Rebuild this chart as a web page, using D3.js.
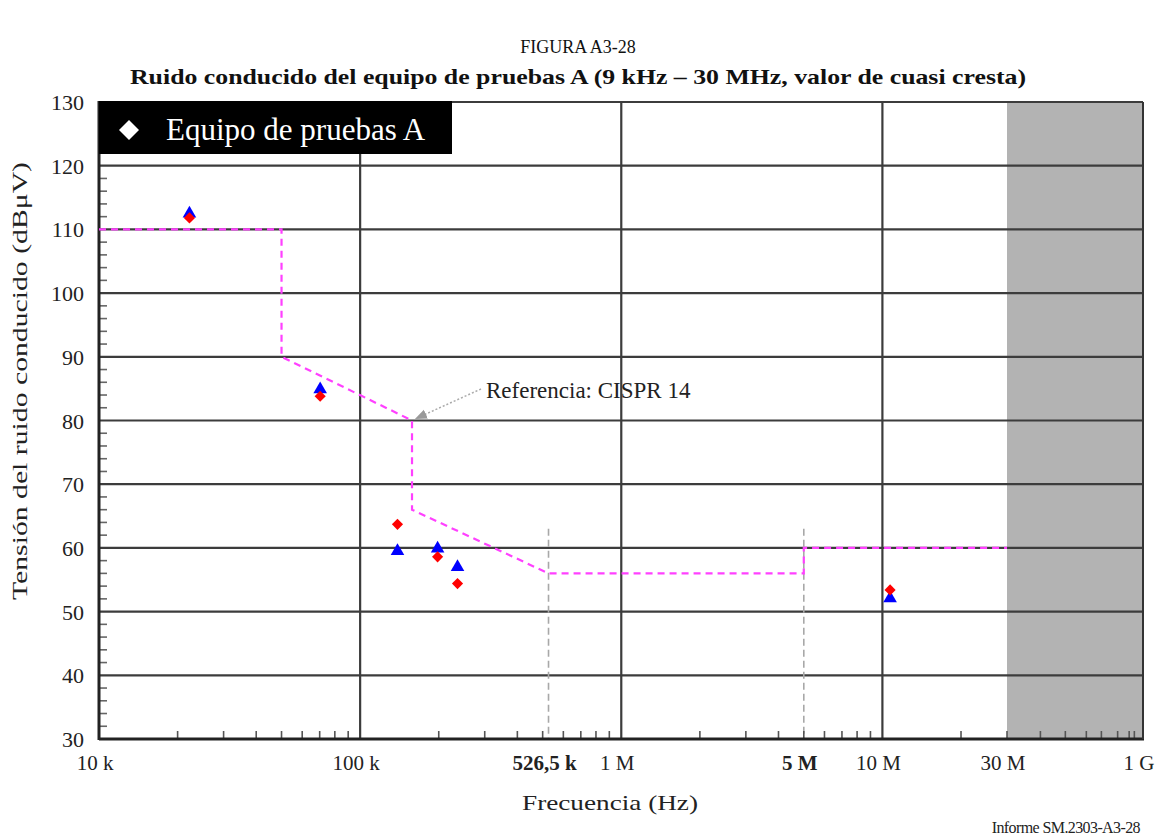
<!DOCTYPE html>
<html><head><meta charset="utf-8">
<script src="https://cdn.jsdelivr.net/npm/d3@7/dist/d3.min.js"></script>
<style>
body{margin:0;background:#fff;}
svg{display:block;font-family:"Liberation Serif","Times New Roman",serif;}
</style></head>
<body><svg id="c" width="1157" height="837"></svg>
<script>
// ---- data ----
const freqs = [22.2e3, 70.3e3, 139e3, 198e3, 236e3, 10.7e6];
const redValues = [111.8, 83.8, 63.7, 58.6, 54.4, 53.4];
const blueValues = [112.5, 84.9, 59.5, 59.9, 57.0, 52.1];
const limitFreqs = [1e4, 50e3, 50e3, 158e3, 158e3, 526.5e3, 5e6, 5e6, 3e7];
const limitValues = [110, 110, 90, 80, 66, 56, 56, 60, 60];
const yTicks = [30, 40, 50, 60, 70, 80, 90, 100, 110, 120, 130];
const xTickValues = [1e4, 1e5, 526.5e3, 1e6, 5e6, 1e7, 3e7, 1e9];
const xTickLabels = ["10 k", "100 k", "526,5 k", "1 M", "5 M", "10 M", "30 M", "1 G"];
const xTickBold = [false, false, true, false, true, false, false, false];
const xGridValues = [1e5, 1e6, 1e7];
const xDashedValues = [526.5e3, 5e6];
const grayMinorTicks = [71e6, 135e6, 232e6, 342e6, 520e6, 700e6, 800e6];
const shadeRange = [3e7, 1e9];

const svg = d3.select("#c");
const L = 99, R = 1143, T = 102, B = 739;
const x = d3.scaleLog().domain([1e4, 3e7, 1e9]).range([L, 1007, R]);
const y = d3.scaleLinear().domain([30, 130]).range([B, T]);

// titles
svg.append("text").attr("x", 578).attr("y", 53).attr("text-anchor", "middle")
  .attr("font-size", 18).attr("fill", "#111").text("FIGURA A3-28");
svg.append("text").attr("x", 130).attr("y", 84)
  .attr("font-size", 21).attr("font-weight", "bold").attr("fill", "#111")
  .attr("textLength", 896).attr("lengthAdjust", "spacingAndGlyphs")
  .text("Ruido conducido del equipo de pruebas A (9 kHz – 30 MHz, valor de cuasi cresta)");

// shaded region
svg.append("rect").attr("x", x(shadeRange[0])).attr("y", T)
  .attr("width", x(shadeRange[1]) - x(shadeRange[0])).attr("height", B - T)
  .attr("fill", "#b3b3b3");

// horizontal gridlines
svg.append("g").selectAll("line").data(yTicks.filter(d => d > 30)).join("line")
  .attr("x1", L).attr("x2", R).attr("y1", d => y(d)).attr("y2", d => y(d))
  .attr("stroke", "#3c3c3c").attr("stroke-width", 2.2);

// vertical gridlines
svg.append("g").selectAll("line").data(xGridValues).join("line")
  .attr("x1", d => x(d)).attr("x2", d => x(d)).attr("y1", T).attr("y2", B)
  .attr("stroke", "#3c3c3c").attr("stroke-width", 2.2);

// dashed verticals
svg.append("g").selectAll("line").data(xDashedValues).join("line")
  .attr("x1", d => x(d)).attr("x2", d => x(d)).attr("y1", y(63)).attr("y2", B)
  .attr("stroke", "#a8a8a8").attr("stroke-width", 1.6).attr("stroke-dasharray", "7,4");

// minor y ticks
const yMinor = d3.range(32, 130, 2).filter(d => d % 10 !== 0);
svg.append("g").selectAll("line").data(yMinor).join("line")
  .attr("x1", L).attr("x2", L + 8).attr("y1", d => y(d)).attr("y2", d => y(d))
  .attr("stroke", "#666").attr("stroke-width", 1.6);

// minor x ticks
let xMinor = [];
for (let e = 4; e <= 7; e++) for (let m = 2; m <= 9; m++) {
  const v = m * Math.pow(10, e);
  if (v < 3e7) xMinor.push(v);
}
xMinor = xMinor.concat(grayMinorTicks, [3e7]);
svg.append("g").selectAll("line").data(xMinor).join("line")
  .attr("x1", d => x(d)).attr("x2", d => x(d)).attr("y1", B).attr("y2", B - 8)
  .attr("stroke", "#555").attr("stroke-width", 1.6);

// axes lines
svg.append("line").attr("x1", L).attr("x2", L).attr("y1", T - 1).attr("y2", B + 1)
  .attr("stroke", "#222").attr("stroke-width", 3);
svg.append("line").attr("x1", L).attr("x2", R + 1).attr("y1", B).attr("y2", B)
  .attr("stroke", "#222").attr("stroke-width", 3);
svg.append("line").attr("x1", R).attr("x2", R).attr("y1", T).attr("y2", B)
  .attr("stroke", "#333").attr("stroke-width", 2);

// y tick labels
svg.append("g").selectAll("text").data(yTicks).join("text")
  .attr("x", 84).attr("y", d => y(d) + 8).attr("text-anchor", "end")
  .attr("font-size", 22).attr("fill", "#222").text(d => d);

// x tick labels
svg.append("g").selectAll("text").data(xTickValues).join("text")
  .attr("x", d => x(d) - 4).attr("y", 770).attr("text-anchor", "middle")
  .attr("font-size", 21).attr("fill", "#222")
  .attr("font-weight", (d, i) => xTickBold[i] ? "bold" : "normal")
  .text((d, i) => xTickLabels[i]);

// axis titles
svg.append("text").attr("x", 522).attr("y", 810)
  .attr("font-size", 21).attr("fill", "#222")
  .attr("textLength", 176).attr("lengthAdjust", "spacingAndGlyphs").text("Frecuencia (Hz)");
svg.append("text").attr("transform", "translate(27,600) rotate(-90)")
  .attr("font-size", 21).attr("fill", "#222")
  .attr("textLength", 438).attr("lengthAdjust", "spacingAndGlyphs")
  .text("Tensión del ruido conducido (dBμV)");
svg.append("text").attr("x", 1140).attr("y", 833).attr("text-anchor", "end")
  .attr("font-size", 16).attr("letter-spacing", -0.6).attr("fill", "#222").text("Informe SM.2303-A3-28");

// limit line
const limitPts = limitFreqs.map((f, i) => [f, limitValues[i]]);
svg.append("path").datum(limitPts)
  .attr("d", d3.line().x(d => x(d[0])).y(d => y(d[1])))
  .attr("fill", "none").attr("stroke", "#ff40ff").attr("stroke-width", 2.2)
  .attr("stroke-dasharray", "7,5");

// annotation
svg.append("defs").append("marker").attr("id", "ah").attr("viewBox", "0 0 10 10")
  .attr("refX", 9).attr("refY", 5).attr("markerWidth", 8).attr("markerHeight", 8)
  .attr("orient", "auto").append("path").attr("d", "M0,1 L10,5 L0,9 Z").attr("fill", "#999");
svg.append("line").attr("x1", 481).attr("y1", 389).attr("x2", x(158e3) + 4).attr("y2", y(80) - 2)
  .attr("stroke", "#aaa").attr("stroke-width", 1.5).attr("stroke-dasharray", "2,2")
  .attr("marker-end", "url(#ah)");
svg.append("text").attr("x", 486).attr("y", 398).attr("font-size", 23).attr("fill", "#222")
  .text("Referencia: CISPR 14");

// data points
const tri = d3.symbol().type(d3.symbolTriangle).size(80);
const dia = d3.symbol().type(d3.symbolSquare).size(62);
svg.append("g").selectAll("path").data(freqs).join("path")
  .attr("d", tri).attr("fill", "#0000ff")
  .attr("transform", (d, i) => `translate(${x(d)},${y(blueValues[i])})`);
svg.append("g").selectAll("path").data(freqs).join("path")
  .attr("d", dia).attr("fill", "#ff0000")
  .attr("transform", (d, i) => `translate(${x(d)},${y(redValues[i])}) rotate(45)`);

// legend
const lg = svg.append("g");
lg.append("rect").attr("x", 99).attr("y", 101).attr("width", 353).attr("height", 53).attr("fill", "#000");
lg.append("path").attr("d", d3.symbol().type(d3.symbolSquare).size(200))
  .attr("transform", "translate(129,130) rotate(45)").attr("fill", "#fff");
lg.append("text").attr("x", 166).attr("y", 140).attr("font-size", 31).attr("fill", "#fff")
  .text("Equipo de pruebas A");
</script></body></html>
